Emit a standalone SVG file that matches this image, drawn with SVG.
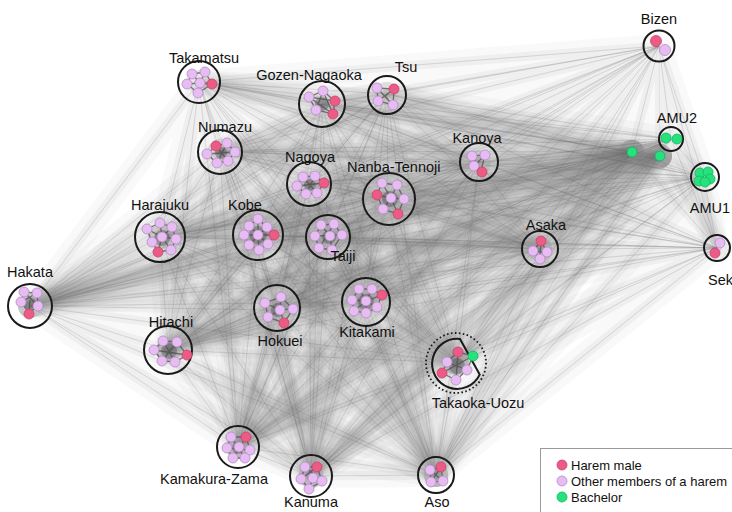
<svg xmlns="http://www.w3.org/2000/svg" xmlns:xlink="http://www.w3.org/1999/xlink" width="732" height="512" viewBox="0 0 732 512">
<style>
.ring{fill:#ffffff;fill-opacity:0.2;stroke:#1a1a1a;stroke-width:2}
.dot-ring{fill:none;stroke:#1a1a1a;stroke-width:1.8;stroke-dasharray:1.6 2.4}
.hm{fill:#ec5a86;stroke:#c84370;stroke-width:0.8}
.om{fill:#e6bcf2;stroke:#b58ac6;stroke-width:0.8}
.ba{fill:#26e27c;stroke:#14b462;stroke-width:0.8}
.mesh{fill:none;stroke:#4d4d4d;stroke-width:1.3;stroke-opacity:0.75}
.core{fill:#555;fill-opacity:0.45}
.lbl{font-family:"Liberation Sans",Arial,sans-serif;font-size:14.5px;fill:#111;text-anchor:middle}
.lgd{font-family:"Liberation Sans",Arial,sans-serif;font-size:13px;fill:#111}
</style>
<defs>
<g id="E">
<path d="M659 46L671 139 659 46 704 177 659 46 717 248 659 46 199 82 659 46 322 104 659 46 387 94 659 46 220 151 659 46 309 184 659 46 388 198 659 46 479 162 659 46 160 237 659 46 258 235 659 46 328 237 659 46 540 249 659 46 30 306 659 46 278 310 659 46 366 302 659 46 168 350 659 46 457 363 659 46 238 447 659 46 311 476 659 46 436 475 659 46 632 152 659 46 660 156"/>
<path d="M671 139L704 177 671 139 717 248 671 139 199 82 671 139 322 104 671 139 387 94 671 139 220 151 671 139 309 184 671 139 388 198 671 139 479 162 671 139 160 237 671 139 258 235 671 139 328 237 671 139 540 249 671 139 30 306 671 139 278 310 671 139 366 302 671 139 168 350 671 139 457 363 671 139 238 447 671 139 311 476 671 139 436 475 671 139 632 152 671 139 660 156"/>
<path d="M704 177L717 248 704 177 199 82 704 177 322 104 704 177 387 94 704 177 220 151 704 177 309 184 704 177 388 198 704 177 479 162 704 177 160 237 704 177 258 235 704 177 328 237 704 177 540 249 704 177 30 306 704 177 278 310 704 177 366 302 704 177 168 350 704 177 457 363 704 177 238 447 704 177 311 476 704 177 436 475 704 177 632 152 704 177 660 156"/>
<path d="M717 248L199 82 717 248 322 104 717 248 387 94 717 248 220 151 717 248 309 184 717 248 388 198 717 248 479 162 717 248 160 237 717 248 258 235 717 248 328 237 717 248 540 249 717 248 30 306 717 248 278 310 717 248 366 302 717 248 168 350 717 248 457 363 717 248 238 447 717 248 311 476 717 248 436 475 717 248 632 152 717 248 660 156"/>
<path d="M199 82L322 104 199 82 387 94 199 82 220 151 199 82 309 184 199 82 388 198 199 82 479 162 199 82 160 237 199 82 258 235 199 82 328 237 199 82 540 249 199 82 30 306 199 82 278 310 199 82 366 302 199 82 168 350 199 82 457 363 199 82 238 447 199 82 311 476 199 82 436 475 199 82 632 152 199 82 660 156"/>
<path d="M322 104L387 94 322 104 220 151 322 104 309 184 322 104 388 198 322 104 479 162 322 104 160 237 322 104 258 235 322 104 328 237 322 104 540 249 322 104 30 306 322 104 278 310 322 104 366 302 322 104 168 350 322 104 457 363 322 104 238 447 322 104 311 476 322 104 436 475 322 104 632 152 322 104 660 156"/>
<path d="M387 94L220 151 387 94 309 184 387 94 388 198 387 94 479 162 387 94 160 237 387 94 258 235 387 94 328 237 387 94 540 249 387 94 30 306 387 94 278 310 387 94 366 302 387 94 168 350 387 94 457 363 387 94 238 447 387 94 311 476 387 94 436 475 387 94 632 152 387 94 660 156"/>
<path d="M220 151L309 184 220 151 388 198 220 151 479 162 220 151 160 237 220 151 258 235 220 151 328 237 220 151 540 249 220 151 30 306 220 151 278 310 220 151 366 302 220 151 168 350 220 151 457 363 220 151 238 447 220 151 311 476 220 151 436 475 220 151 632 152 220 151 660 156"/>
<path d="M309 184L388 198 309 184 479 162 309 184 160 237 309 184 258 235 309 184 328 237 309 184 540 249 309 184 30 306 309 184 278 310 309 184 366 302 309 184 168 350 309 184 457 363 309 184 238 447 309 184 311 476 309 184 436 475 309 184 632 152 309 184 660 156"/>
<path d="M388 198L479 162 388 198 160 237 388 198 258 235 388 198 328 237 388 198 540 249 388 198 30 306 388 198 278 310 388 198 366 302 388 198 168 350 388 198 457 363 388 198 238 447 388 198 311 476 388 198 436 475 388 198 632 152 388 198 660 156"/>
<path d="M479 162L160 237 479 162 258 235 479 162 328 237 479 162 540 249 479 162 30 306 479 162 278 310 479 162 366 302 479 162 168 350 479 162 457 363 479 162 238 447 479 162 311 476 479 162 436 475 479 162 632 152 479 162 660 156"/>
<path d="M160 237L258 235 160 237 328 237 160 237 540 249 160 237 30 306 160 237 278 310 160 237 366 302 160 237 168 350 160 237 457 363 160 237 238 447 160 237 311 476 160 237 436 475 160 237 632 152 160 237 660 156"/>
<path d="M258 235L328 237 258 235 540 249 258 235 30 306 258 235 278 310 258 235 366 302 258 235 168 350 258 235 457 363 258 235 238 447 258 235 311 476 258 235 436 475 258 235 632 152 258 235 660 156"/>
<path d="M328 237L540 249 328 237 30 306 328 237 278 310 328 237 366 302 328 237 168 350 328 237 457 363 328 237 238 447 328 237 311 476 328 237 436 475 328 237 632 152 328 237 660 156"/>
<path d="M540 249L30 306 540 249 278 310 540 249 366 302 540 249 168 350 540 249 457 363 540 249 238 447 540 249 311 476 540 249 436 475 540 249 632 152 540 249 660 156"/>
<path d="M30 306L278 310 30 306 366 302 30 306 168 350 30 306 457 363 30 306 238 447 30 306 311 476 30 306 436 475 30 306 632 152 30 306 660 156"/>
<path d="M278 310L366 302 278 310 168 350 278 310 457 363 278 310 238 447 278 310 311 476 278 310 436 475 278 310 632 152 278 310 660 156"/>
<path d="M366 302L168 350 366 302 457 363 366 302 238 447 366 302 311 476 366 302 436 475 366 302 632 152 366 302 660 156"/>
<path d="M168 350L457 363 168 350 238 447 168 350 311 476 168 350 436 475 168 350 632 152 168 350 660 156"/>
<path d="M457 363L238 447 457 363 311 476 457 363 436 475 457 363 632 152 457 363 660 156"/>
<path d="M238 447L311 476 238 447 436 475 238 447 632 152 238 447 660 156"/>
<path d="M311 476L436 475 311 476 632 152 311 476 660 156"/>
<path d="M436 475L632 152 436 475 660 156"/>
<path d="M632 152L660 156"/>
</g>
</defs>
<rect width="732" height="512" fill="#ffffff"/>
<g id="connectors" fill="none" stroke-linejoin="round" stroke-linecap="round">
<use xlink:href="#E" href="#E" stroke="#8a8a8a" stroke-width="24" stroke-opacity="0.05"/>
<use xlink:href="#E" href="#E" stroke="#7a7a7a" stroke-width="9" stroke-opacity="0.08"/>
<use xlink:href="#E" href="#E" stroke="#6a6a6a" stroke-width="0.7" stroke-opacity="0.16"/>
</g>

<g id="n-bizen">
<circle class="ring" cx="659" cy="46" r="15.5"/>
<circle class="hm" cx="656" cy="41" r="5.5"/>
<circle class="om" cx="665" cy="50" r="5.5"/>
<text class="lbl" x="659" y="24">Bizen</text>
</g>
<g id="n-amu2">
<circle class="ring" cx="671" cy="139" r="12"/>
<circle class="ba" cx="666" cy="138" r="5"/>
<circle class="ba" cx="677" cy="139" r="5"/>
<text class="lbl" x="677" y="123">AMU2</text>
</g>
<g id="n-bachelors">
<circle class="ba" cx="632" cy="152" r="5"/>
<circle class="ba" cx="660" cy="156" r="5"/>
</g>
<g id="n-amu1">
<circle class="ring" cx="705" cy="177" r="14"/>
<circle class="ba" cx="700" cy="173" r="5"/>
<circle class="ba" cx="708" cy="172" r="5"/>
<circle class="ba" cx="699" cy="181" r="5"/>
<circle class="ba" cx="710" cy="179" r="5"/>
<circle class="ba" cx="705" cy="182" r="5"/>
<text class="lbl" x="710" y="213">AMU1</text>
</g>
<g id="n-sek">
<circle class="ring" cx="717" cy="248" r="13"/>
<circle class="om" cx="720" cy="243" r="5"/>
<circle class="hm" cx="715" cy="253" r="5"/>
<text class="lbl" x="708" y="285" style="text-anchor:start">Sek</text>
</g>

<g id="n-takamatsu">
<circle class="ring" cx="199" cy="82" r="21"/>
<path class="mesh" d="M192 74L205 72 212 84 198 93 187 84ZM192 74L200 83 205 72M187 84L200 83 212 84M198 93L200 83"/>
<circle class="om" cx="192" cy="74" r="5"/>
<circle class="om" cx="205" cy="72" r="5"/>
<circle class="om" cx="187" cy="84" r="5"/>
<circle class="om" cx="200" cy="83" r="5"/>
<circle class="hm" cx="212" cy="84" r="5"/>
<circle class="om" cx="198" cy="93" r="5"/>
<text class="lbl" x="204" y="63">Takamatsu</text>
</g>
<g id="n-gozen-nagaoka">
<circle class="ring" cx="322" cy="104" r="23"/>
<circle class="core" cx="322" cy="104" r="7"/>
<path class="mesh" d="M309 97L323 91 335 101 333 114 316 110ZM309 97L335 101M323 91L316 110M323 91L333 114M309 97L333 114"/>
<circle class="om" cx="309" cy="97" r="5"/>
<circle class="om" cx="323" cy="91" r="5"/>
<circle class="hm" cx="335" cy="101" r="5"/>
<circle class="om" cx="316" cy="110" r="5"/>
<circle class="hm" cx="333" cy="114" r="5"/>
<text class="lbl" x="309" y="80">Gozen-Nagaoka</text>
</g>
<g id="n-tsu">
<circle class="ring" cx="387" cy="95" r="19"/>
<path class="mesh" d="M377 88L394 89 393 105 378 101ZM377 88L393 105M394 89L378 101"/>
<circle class="om" cx="377" cy="88" r="5"/>
<circle class="hm" cx="394" cy="89" r="5"/>
<circle class="om" cx="378" cy="101" r="5"/>
<circle class="om" cx="393" cy="105" r="5"/>
<text class="lbl" x="406" y="72">Tsu</text>
</g>
<g id="n-numazu">
<circle class="ring" cx="220" cy="152" r="22"/>
<circle class="core" cx="221" cy="153" r="6"/>
<path class="mesh" d="M216 146L227 143 235 152 228 161 217 163 207 154ZM216 146L228 161M227 143L217 163M207 154L235 152"/>
<circle class="hm" cx="216" cy="146" r="5"/>
<circle class="om" cx="227" cy="143" r="5"/>
<circle class="om" cx="207" cy="154" r="5"/>
<circle class="om" cx="235" cy="152" r="5"/>
<circle class="om" cx="217" cy="163" r="5"/>
<circle class="om" cx="228" cy="161" r="5"/>
<text class="lbl" x="225" y="132">Numazu</text>
</g>
<g id="n-nagoya">
<circle class="ring" cx="309" cy="184" r="22"/>
<circle class="core" cx="310" cy="185" r="6"/>
<path class="mesh" d="M303 177L315 176 324 183 317 193 306 194 297 186ZM303 177L317 193M315 176L306 194M297 186L324 183"/>
<circle class="om" cx="303" cy="177" r="5"/>
<circle class="om" cx="315" cy="176" r="5"/>
<circle class="om" cx="297" cy="186" r="5"/>
<circle class="hm" cx="324" cy="183" r="5"/>
<circle class="om" cx="306" cy="194" r="5"/>
<circle class="om" cx="317" cy="193" r="5"/>
<text class="lbl" x="310" y="162">Nagoya</text>
</g>
<g id="n-nanba-tennoji">
<circle class="ring" cx="389" cy="199" r="26"/>
<circle class="core" cx="390" cy="199" r="8"/>
<path class="mesh" d="M382 183L397 185 404 199 398 214 383 209 377 195ZM382 183L391 198 397 185M377 195L391 198 404 199M383 209L391 198 398 214"/>
<circle class="om" cx="382" cy="183" r="5"/>
<circle class="om" cx="397" cy="185" r="5"/>
<circle class="hm" cx="377" cy="195" r="5"/>
<circle class="om" cx="391" cy="198" r="5"/>
<circle class="om" cx="404" cy="199" r="5"/>
<circle class="om" cx="383" cy="209" r="5"/>
<circle class="hm" cx="398" cy="214" r="5"/>
<text class="lbl" x="347" y="172" style="text-anchor:start">Nanba-Tennoji</text>
</g>
<g id="n-kanoya">
<circle class="ring" cx="479" cy="162" r="19"/>
<path class="mesh" d="M472 156L485 155 481 171 474 166ZM472 156L481 171M485 155L474 166"/>
<circle class="om" cx="472" cy="156" r="5"/>
<circle class="om" cx="485" cy="155" r="5"/>
<circle class="om" cx="474" cy="166" r="5"/>
<circle class="hm" cx="482" cy="172" r="5"/>
<text class="lbl" x="477" y="143">Kanoya</text>
</g>
<g id="n-harajuku">
<circle class="ring" cx="160" cy="237" r="25"/>
<circle class="core" cx="162" cy="238" r="8"/>
<path class="mesh" d="M160 223L172 227 176 239 171 250 158 252 152 242 147 229ZM160 223L162 237 171 250M147 229L162 237 176 239M152 242L162 237 172 227M158 252L162 237"/>
<circle class="om" cx="160" cy="223" r="5"/>
<circle class="om" cx="172" cy="227" r="5"/>
<circle class="om" cx="147" cy="229" r="5"/>
<circle class="om" cx="162" cy="237" r="5"/>
<circle class="om" cx="176" cy="239" r="5"/>
<circle class="om" cx="152" cy="242" r="5"/>
<circle class="om" cx="171" cy="250" r="5"/>
<circle class="hm" cx="158" cy="252" r="5"/>
<text class="lbl" x="160" y="210">Harajuku</text>
</g>
<g id="n-kobe">
<circle class="ring" cx="258" cy="235" r="25"/>
<circle class="core" cx="258" cy="235" r="9"/>
<path class="mesh" d="M258 219L267 227 274 235 268 244 259 250 249 245 244 235 249 226ZM258 219L258 235 259 250M244 235L274 235M249 226L268 244M267 227L249 245"/>
<circle class="om" cx="258" cy="219" r="5"/>
<circle class="om" cx="249" cy="226" r="5"/>
<circle class="om" cx="267" cy="227" r="5"/>
<circle class="om" cx="244" cy="235" r="5"/>
<circle class="om" cx="258" cy="235" r="5"/>
<circle class="hm" cx="274" cy="235" r="5"/>
<circle class="om" cx="249" cy="245" r="5"/>
<circle class="om" cx="268" cy="244" r="5"/>
<circle class="om" cx="259" cy="250" r="5"/>
<text class="lbl" x="245" y="210">Kobe</text>
</g>
<g id="n-taiji">
<circle class="ring" cx="328" cy="237" r="22"/>
<circle class="core" cx="329" cy="237" r="7"/>
<path class="mesh" d="M321 225L334 224 342 235 332 250 319 248 315 236ZM321 225L330 236 332 250M315 236L342 235M334 224L319 248"/>
<circle class="om" cx="321" cy="225" r="5"/>
<circle class="om" cx="334" cy="224" r="5"/>
<circle class="om" cx="315" cy="236" r="5"/>
<circle class="om" cx="330" cy="236" r="5"/>
<circle class="om" cx="342" cy="235" r="5"/>
<circle class="om" cx="319" cy="248" r="5"/>
<circle class="om" cx="332" cy="250" r="5"/>
<text class="lbl" x="343" y="261">Taiji</text>
</g>
<g id="n-asaka">
<circle class="ring" cx="540" cy="249" r="18"/>
<path class="mesh" d="M541 241L547 252 540 259 533 251ZM541 241L540 259M533 251L547 252"/>
<circle class="hm" cx="541" cy="241" r="5"/>
<circle class="om" cx="533" cy="251" r="5"/>
<circle class="om" cx="547" cy="252" r="5"/>
<circle class="om" cx="540" cy="259" r="5"/>
<text class="lbl" x="546" y="230">Asaka</text>
</g>
<g id="n-hakata">
<circle class="ring" cx="30" cy="306" r="22"/>
<circle class="core" cx="30" cy="303" r="6"/>
<path class="mesh" d="M24 292L37 293 38 306 29 313 21 302ZM24 292L38 306M37 293L21 302M29 313L30 300"/>
<circle class="om" cx="24" cy="292" r="5"/>
<circle class="om" cx="37" cy="293" r="5"/>
<circle class="om" cx="21" cy="302" r="5"/>
<circle class="om" cx="38" cy="306" r="5"/>
<circle class="hm" cx="29" cy="314" r="5"/>
<text class="lbl" x="30" y="277">Hakata</text>
</g>
<g id="n-hokuei">
<circle class="ring" cx="277" cy="308" r="23"/>
<circle class="core" cx="278" cy="310" r="7"/>
<path class="mesh" d="M281 297L293 309 284 323 268 317 265 303ZM281 297L280 310 284 323M265 303L280 310 293 309M268 317L280 310"/>
<circle class="om" cx="281" cy="297" r="5"/>
<circle class="om" cx="265" cy="303" r="5"/>
<circle class="om" cx="280" cy="310" r="5"/>
<circle class="om" cx="293" cy="309" r="5"/>
<circle class="om" cx="268" cy="317" r="5"/>
<circle class="hm" cx="284" cy="323" r="5"/>
<text class="lbl" x="280" y="346">Hokuei</text>
</g>
<g id="n-kitakami">
<circle class="ring" cx="366" cy="302" r="24"/>
<circle class="core" cx="366" cy="302" r="8"/>
<path class="mesh" d="M359 289L372 289 382 295 377 307 366 313 354 311 352 300ZM359 289L366 301 377 307M372 289L366 301 354 311M352 300L366 301 382 295M366 313L366 301"/>
<circle class="om" cx="359" cy="289" r="5"/>
<circle class="om" cx="372" cy="289" r="5"/>
<circle class="hm" cx="382" cy="295" r="5"/>
<circle class="om" cx="352" cy="300" r="5"/>
<circle class="om" cx="366" cy="301" r="5"/>
<circle class="om" cx="377" cy="307" r="5"/>
<circle class="om" cx="354" cy="311" r="5"/>
<circle class="om" cx="366" cy="313" r="5"/>
<text class="lbl" x="367" y="337">Kitakami</text>
</g>
<g id="n-hitachi">
<circle class="ring" cx="168" cy="350" r="24"/>
<circle class="core" cx="169" cy="351" r="8"/>
<path class="mesh" d="M163 341L177 342 187 355 175 362 162 361 154 350ZM163 341L175 362M177 342L162 361M154 350L187 355"/>
<circle class="om" cx="163" cy="341" r="5"/>
<circle class="om" cx="177" cy="342" r="5"/>
<circle class="om" cx="154" cy="350" r="5"/>
<circle class="hm" cx="187" cy="355" r="5"/>
<circle class="om" cx="162" cy="361" r="5"/>
<circle class="om" cx="175" cy="362" r="5"/>
<text class="lbl" x="171" y="327">Hitachi</text>
</g>
<g id="n-takaoka-uozu">
<circle class="dot-ring" cx="456" cy="363" r="30"/>
<path class="ring" d="M460 339A25 25 0 1 0 479.7 374.6Z"/>
<circle class="core" cx="457" cy="366" r="8"/>
<path class="mesh" d="M458 352L473 356 467 370 456 380 442 373 447 362ZM458 352L456 380M447 362L467 370M442 373L473 356"/>
<circle class="hm" cx="458" cy="352" r="5"/>
<circle class="ba" cx="473" cy="356" r="5"/>
<circle class="om" cx="447" cy="362" r="5"/>
<circle class="om" cx="467" cy="370" r="5"/>
<circle class="hm" cx="442" cy="373" r="5"/>
<circle class="om" cx="456" cy="380" r="5"/>
<text class="lbl" x="478" y="408">Takaoka-Uozu</text>
</g>
<g id="n-kamakura-zama">
<circle class="ring" cx="238" cy="447" r="21"/>
<circle class="core" cx="238" cy="448" r="6"/>
<path class="mesh" d="M231 437L246 437 250 450 245 458 233 458 227 448ZM231 437L245 458M246 437L233 458M227 448L250 450"/>
<circle class="om" cx="231" cy="437" r="5"/>
<circle class="hm" cx="246" cy="437" r="5"/>
<circle class="om" cx="227" cy="448" r="5"/>
<circle class="om" cx="239" cy="447" r="5"/>
<circle class="om" cx="250" cy="450" r="5"/>
<circle class="om" cx="233" cy="458" r="5"/>
<circle class="om" cx="245" cy="458" r="5"/>
<text class="lbl" x="214" y="484">Kamakura-Zama</text>
</g>
<g id="n-kanuma">
<circle class="ring" cx="311" cy="476" r="21"/>
<path class="mesh" d="M305 467L317 467 322 481 309 489 301 479ZM305 467L322 481M317 467L301 479M309 489L313 478"/>
<circle class="om" cx="305" cy="467" r="5"/>
<circle class="hm" cx="317" cy="467" r="5"/>
<circle class="om" cx="301" cy="479" r="5"/>
<circle class="om" cx="313" cy="478" r="5"/>
<circle class="om" cx="322" cy="481" r="5"/>
<circle class="om" cx="309" cy="489" r="5"/>
<text class="lbl" x="311" y="507">Kanuma</text>
</g>
<g id="n-aso">
<circle class="ring" cx="436" cy="475" r="18"/>
<path class="mesh" d="M430 470L441 467 443 481 431 482ZM430 470L443 481M441 467L431 482"/>
<circle class="om" cx="430" cy="470" r="5"/>
<circle class="hm" cx="441" cy="467" r="5"/>
<circle class="om" cx="431" cy="482" r="5"/>
<circle class="om" cx="443" cy="481" r="5"/>
<text class="lbl" x="437" y="507">Aso</text>
</g>

<g id="legend">
<rect x="540.5" y="448.5" width="200" height="70" fill="#ffffff" stroke="#9a9a9a" stroke-width="1"/>
<circle class="hm" cx="562" cy="465" r="5"/>
<circle class="om" cx="562" cy="481" r="5"/>
<circle class="ba" cx="562" cy="497" r="5"/>
<text class="lgd" x="571" y="469.5">Harem male</text>
<text class="lgd" x="571" y="485.5">Other members of a harem</text>
<text class="lgd" x="571" y="501.5">Bachelor</text>
</g>
</svg>
